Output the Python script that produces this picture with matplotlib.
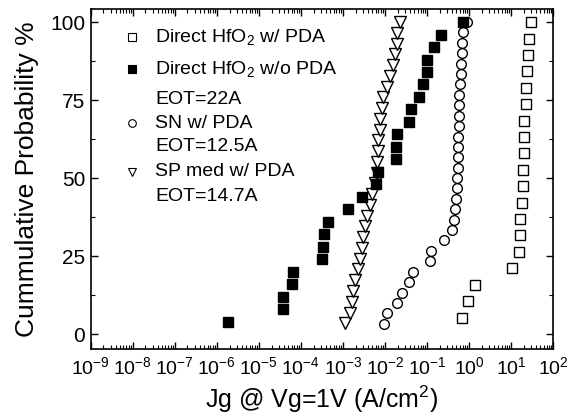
import matplotlib
matplotlib.use('Agg')
import matplotlib.pyplot as plt
from matplotlib.ticker import LogLocator, MultipleLocator, NullFormatter

plt.rcParams['font.family'] = ['Liberation Sans', 'DejaVu Sans']
plt.rcParams['mathtext.fontset'] = 'custom'
plt.rcParams['mathtext.rm'] = 'Liberation Sans'
plt.rcParams['mathtext.it'] = 'Liberation Sans:italic'
plt.rcParams['mathtext.default'] = 'regular'

# Direct HfO2 w/ PDA (open squares)
jg_pda = [0.665, 0.92, 1.40, 10.4, 15.1, 16.2, 16.2, 18.1, 19.1, 19.4,
          19.8, 19.8, 20.1, 22.5, 22.5, 23.8, 25.1, 26.5, 29.1]
cp_pda = [5.3, 10.5, 15.8, 21.1, 26.3, 31.6, 36.8, 42.1, 47.4, 52.6,
          57.9, 63.2, 68.4, 73.7, 78.9, 84.2, 89.5, 94.7, 100]

# Direct HfO2 w/o PDA (filled squares)
jg_nopda = [1.87e-6, 3.68e-5, 3.68e-5, 6.03e-5, 6.37e-5, 3.11e-4, 3.40e-4,
            3.53e-4, 4.47e-4, 1.34e-3, 2.79e-3, 6.1e-3, 6.92e-3, 0.0179,
            0.0182, 0.0189, 0.0365, 0.0407, 0.0653, 0.0813, 0.0977, 0.101,
            0.146, 0.210, 0.728]
cp_nopda = [4, 8, 12, 16, 20, 24, 28, 32, 36, 40, 44, 48, 52, 56, 60, 64,
            68, 72, 76, 80, 84, 88, 92, 96, 100]

# SN w/ PDA (circles)
jg_sn = [0.00944, 0.0109, 0.0189, 0.0249, 0.0378, 0.0455, 0.117, 0.122,
         0.252, 0.391, 0.437, 0.470, 0.488, 0.506, 0.524, 0.533, 0.543,
         0.553, 0.553, 0.564, 0.574, 0.574, 0.585, 0.607, 0.631, 0.653,
         0.665, 0.688, 0.728, 0.875]
cp_sn = [3.3, 6.7, 10.0, 13.3, 16.7, 20.0, 23.3, 26.7, 30.0, 33.3, 36.7,
         40.0, 43.3, 46.7, 50.0, 53.3, 56.7, 60.0, 63.3, 66.7, 70.0, 73.3,
         76.7, 80.0, 83.3, 86.7, 90.0, 93.3, 96.7, 100]

# SP med w/ PDA (triangles)
jg_sp = [0.00112, 0.00147, 0.00161, 0.00176, 0.00193, 0.00231, 0.00254,
         0.00279, 0.00294, 0.00334, 0.00366, 0.00439, 0.00482, 0.00577,
         0.00632, 0.0065, 0.0067, 0.00692, 0.00759, 0.00759, 0.00832,
         0.00908, 0.0109, 0.0131, 0.0157, 0.0173, 0.0189, 0.0195, 0.0228]
cp_sp = [3.4, 6.9, 10.3, 13.8, 17.2, 20.7, 24.1, 27.6, 31.0, 34.5, 37.9,
         41.4, 44.8, 48.3, 51.7, 55.2, 58.6, 62.1, 65.5, 69.0, 72.4, 75.9,
         79.3, 82.8, 86.2, 89.7, 93.1, 96.6, 100]

fig = plt.figure(figsize=(5.78, 4.19), dpi=100)
ax = fig.add_axes([0.157, 0.167, 0.8, 0.8115])

ms = 7
ax.plot(jg_pda, cp_pda, 's', ms=ms, mfc='white', mec='black', mew=1)
ax.plot(jg_sn, cp_sn, 'o', ms=ms, mfc='white', mec='black', mew=1)
ax.plot(jg_sp, cp_sp, 'v', ms=ms + 1, mfc='white', mec='black', mew=1)
ax.plot(jg_nopda, cp_nopda, 's', ms=ms, mfc='black', mec='black', mew=1)

ax.set_xscale('log')
ax.set_xlim(1e-9, 1e2)
ax.set_ylim(-4.8, 104.2)
ax.xaxis.set_major_locator(LogLocator(base=10, numticks=20))
ax.xaxis.set_minor_locator(LogLocator(base=10, subs=range(2, 10), numticks=20))
ax.xaxis.set_minor_formatter(NullFormatter())
ax.yaxis.set_major_locator(MultipleLocator(25))
ax.yaxis.set_minor_locator(MultipleLocator(12.5))

ax.tick_params(which='both', direction='in', top=True, right=True)
ax.tick_params(which='major', length=5, width=1)
ax.tick_params(which='minor', length=3, width=0.8)
ax.tick_params(axis='x', pad=5, labelsize=14)
ax.tick_params(axis='y', pad=4, labelsize=15)
for s in ax.spines.values():
    s.set_linewidth(1.2)

ax.set_xlabel('Jg @ Vg=1V (A/cm$^2$)', fontsize=18, labelpad=4)
ax.set_ylabel('Cummulative Probability %', fontsize=19, labelpad=8)

# legend drawn by hand to keep the uneven line spacing
entries = [
    ('s', 'white', 'Direct HfO$_2$ w/ PDA', 0.9185),
    ('s', 'black', 'Direct HfO$_2$ w/o PDA', 0.8226),
    (None, None, 'EOT=22A', 0.7344),
    ('o', 'white', 'SN w/ PDA', 0.6638),
    (None, None, 'EOT=12.5A', 0.595),
    ('v', 'white', 'SP med w/ PDA', 0.5215),
    (None, None, 'EOT=14.7A', 0.448),
]
for mk, fc, label, yy in entries:
    if mk:
        ax.plot([0.09], [yy], mk, ms=5.5, mfc=fc, mec='black', mew=0.8,
                transform=ax.transAxes, clip_on=False)
    ax.text(0.139, yy, label, transform=ax.transAxes, fontsize=14,
            va='center', ha='left')

fig.savefig('out.png', dpi=100)
